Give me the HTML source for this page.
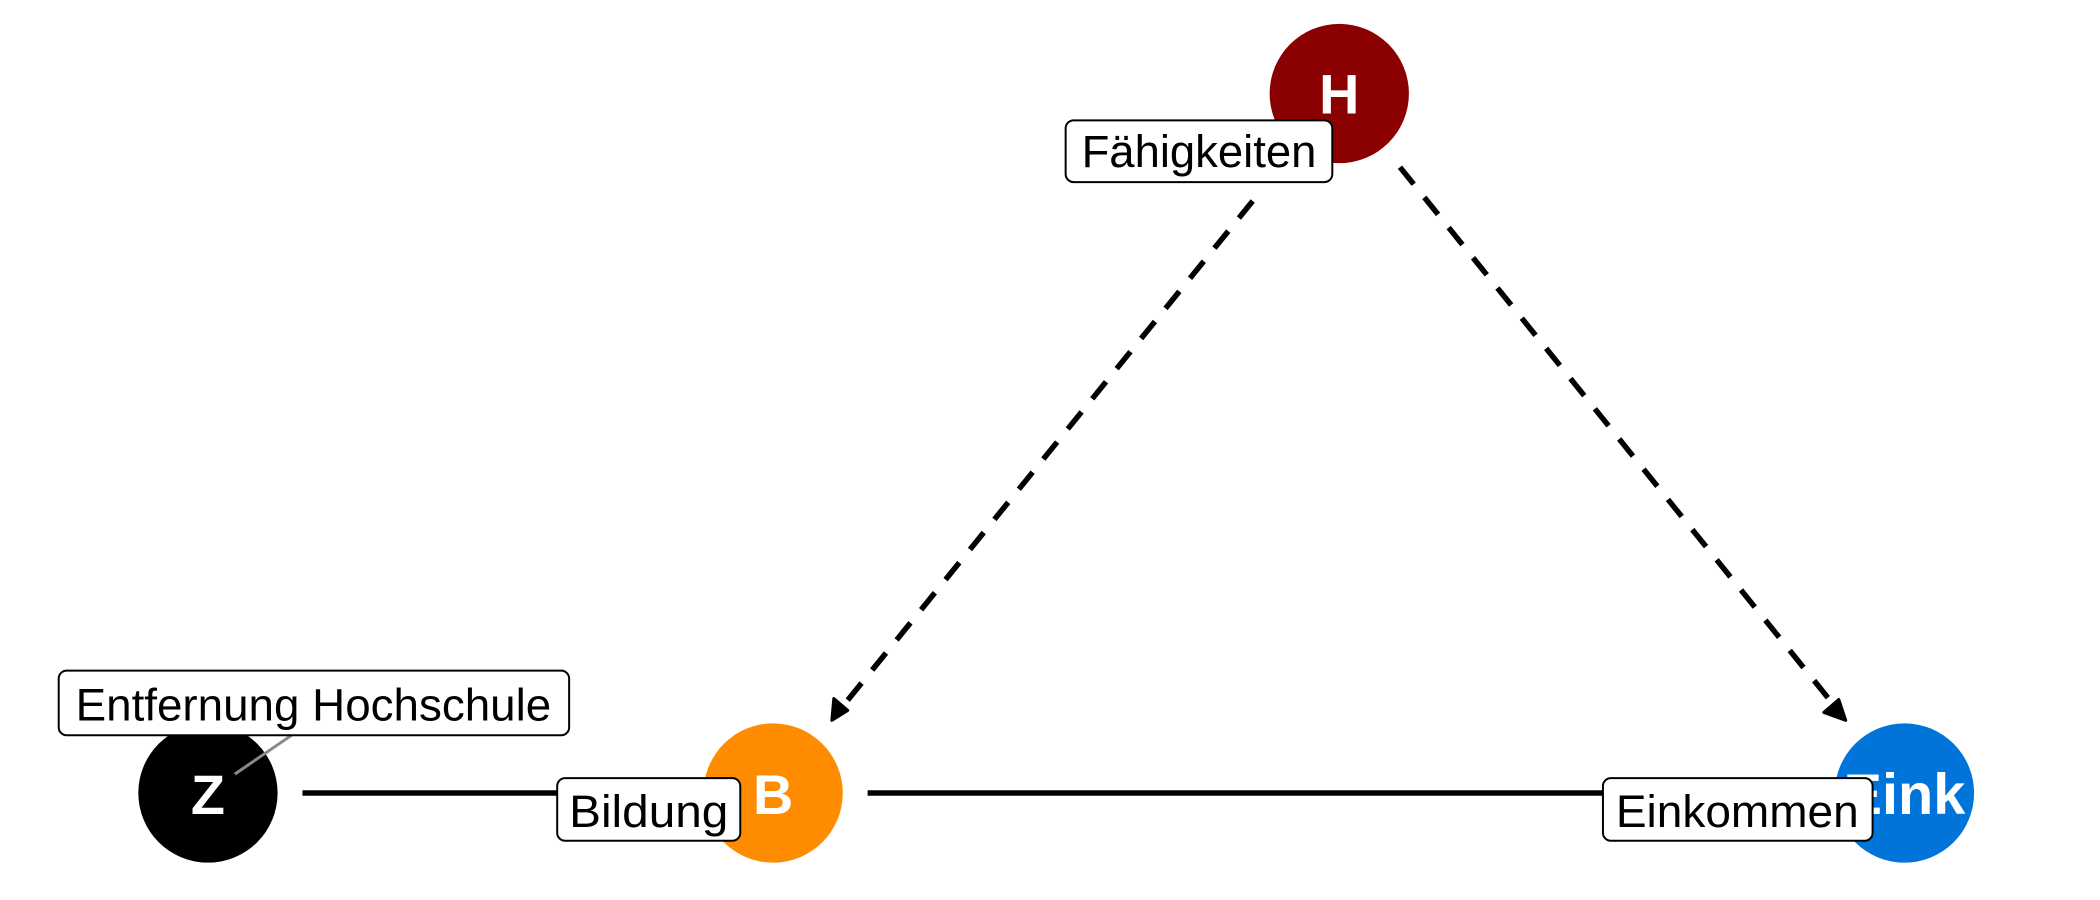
<!DOCTYPE html>
<html><head><meta charset="utf-8"><style>
html,body{margin:0;padding:0;background:#fff;}
svg{display:block;}
text{font-family:"Liberation Sans",sans-serif;}
</style></head><body>
<svg width="2100" height="900" viewBox="0 0 2100 900" xmlns="http://www.w3.org/2000/svg">
<g transform="scale(0.995)">
<!-- solid edges -->
<line x1="304" y1="797" x2="712" y2="797" stroke="#000" stroke-width="5.5"/>
<line x1="872" y1="797" x2="1847" y2="797" stroke="#000" stroke-width="5.5"/>
<!-- dashed edges -->
<line x1="1259" y1="202" x2="842" y2="716" stroke="#000" stroke-width="5.5" stroke-dasharray="22,17"/>
<line x1="1407" y1="168" x2="1849" y2="716" stroke="#000" stroke-width="5.5" stroke-dasharray="22,17"/>
<!-- arrowheads -->
<polygon points="836,724 838,702 852,714" fill="#000" stroke="#000" stroke-width="3" stroke-linejoin="round"/>
<polygon points="1855,724 1833,716 1848,703" fill="#000" stroke="#000" stroke-width="3" stroke-linejoin="round"/>
<!-- nodes -->
<circle cx="1346" cy="94" r="70" fill="#8B0000"/>
<circle cx="209" cy="797" r="70" fill="#000"/>
<circle cx="777" cy="797" r="70" fill="#FF8C00"/>
<circle cx="1914" cy="797" r="70" fill="#0074D9"/>
<text x="1346" y="114" font-size="56" font-weight="bold" fill="#fff" text-anchor="middle">H</text>
<text x="209" y="818" font-size="56" font-weight="bold" fill="#fff" text-anchor="middle">Z</text>
<text x="777" y="818" font-size="56" font-weight="bold" fill="#fff" text-anchor="middle">B</text>
<text x="1914" y="818" font-size="58" font-weight="bold" fill="#fff" text-anchor="middle">Eink</text>
<!-- grey pointer -->
<line x1="236" y1="778" x2="293" y2="739" stroke="#888" stroke-width="3"/>
<!-- labels -->
<rect x="1071" y="121" width="268" height="62" rx="8" fill="#fff" stroke="#000" stroke-width="2"/>
<text x="1205" y="168" font-size="46" text-anchor="middle" textLength="236" lengthAdjust="spacingAndGlyphs">Fähigkeiten</text>
<rect x="59" y="674" width="513" height="65" rx="8" fill="#fff" stroke="#000" stroke-width="2"/>
<text x="315" y="724" font-size="46" text-anchor="middle" textLength="478" lengthAdjust="spacingAndGlyphs">Entfernung Hochschule</text>
<rect x="560" y="782" width="184" height="63" rx="8" fill="#fff" stroke="#000" stroke-width="2"/>
<text x="652" y="831" font-size="46" text-anchor="middle" textLength="160" lengthAdjust="spacingAndGlyphs">Bildung</text>
<rect x="1611" y="782" width="271" height="63" rx="8" fill="#fff" stroke="#000" stroke-width="2"/>
<text x="1746" y="831" font-size="46" text-anchor="middle" textLength="244" lengthAdjust="spacingAndGlyphs">Einkommen</text>
</g>
</svg>
</body></html>
